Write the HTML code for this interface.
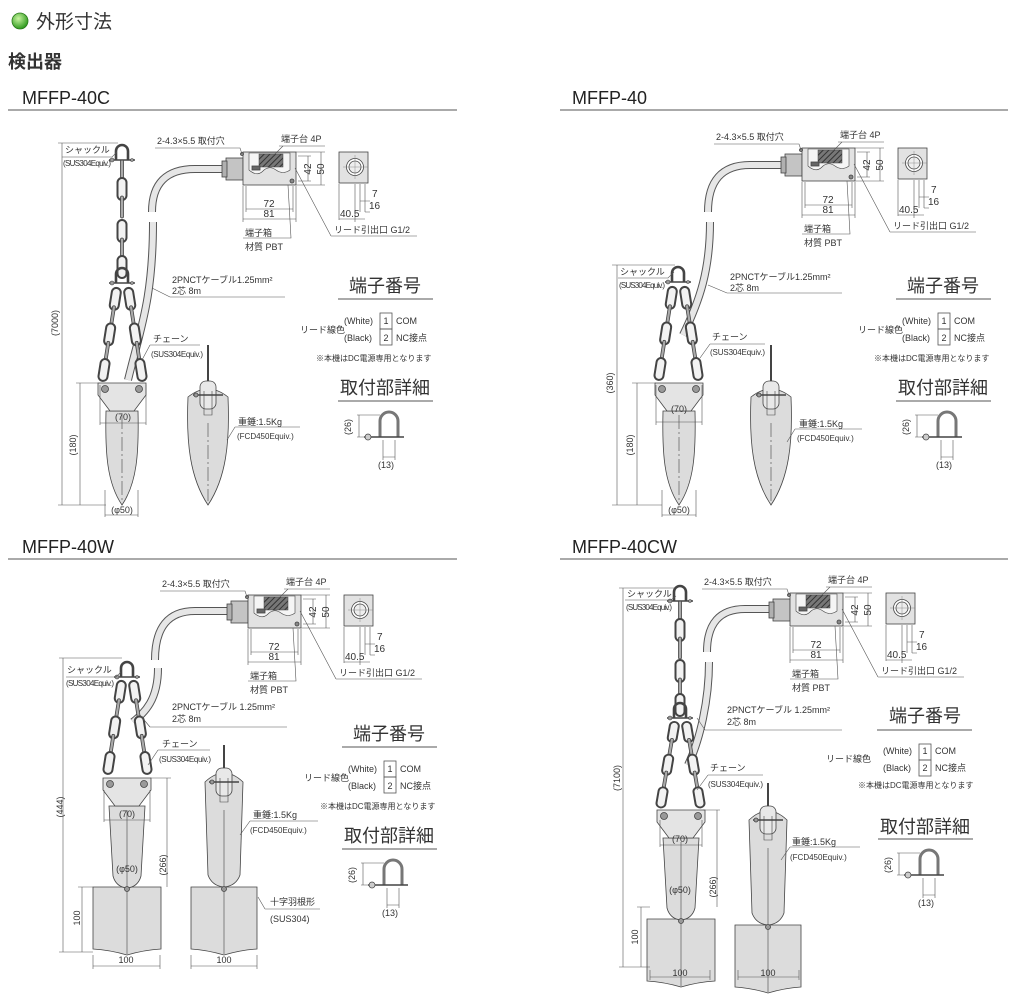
<!DOCTYPE html>
<html><head><meta charset="utf-8"><style>
html,body{margin:0;padding:0;background:#fff;}
svg{display:block;}
text{font-family:"Liberation Sans","Noto Sans CJK JP",sans-serif;fill:#333;}
.s{font-size:9px;}
.xs{font-size:8px;}
.m{font-size:10px;}
.h{font-size:18px;}
.t{font-size:18px;fill:#222;}
</style></head><body>
<svg width="1024" height="999" viewBox="0 0 1024 999" xmlns="http://www.w3.org/2000/svg">
<defs>
<radialGradient id="gg" cx="40%" cy="35%" r="65%"><stop offset="0" stop-color="#c8f5a0"/><stop offset="1" stop-color="#2f9a1e"/></radialGradient>
<pattern id="hatch" width="4" height="4" patternUnits="userSpaceOnUse" patternTransform="rotate(45)"><rect width="4" height="4" fill="#777"/><line x1="0" y1="0" x2="0" y2="4" stroke="#333" stroke-width="2"/></pattern>
<g id="boxA" stroke="#444" stroke-width="0.8">
 <rect x="-17" y="6" width="17" height="22" fill="#c4c4c4"/>
 <rect x="-21" y="9" width="5" height="16" fill="#b0b0b0"/>
 <rect x="0" y="0" width="53" height="33" fill="#e2e2e2"/>
 <path d="M6,1 H47 V18 Q40,23 33,18 T20,19 T6,18Z" fill="#f5f5f5" stroke-width="0.6"/>
 <rect x="16" y="2" width="24" height="13" fill="url(#hatch)" stroke-width="0.5"/>
 <rect x="9" y="14" width="8" height="4" fill="#666"/>
 <circle cx="49" cy="29" r="2" fill="#888"/>
 <circle cx="-1" cy="2" r="1.5" fill="#888"/>
 <g fill="none" stroke="#555" stroke-width="0.6">
  <path d="M53,0 H82 M53,33 H82 M55,4 H68 M55,29 H68 M0,34 V70 M53,34 V70 M3,34 V60 M50,34 V60"/>
  <path d="M65,4 V29 M78,0 V33 M3,57 H50 M0,67 H53"/>
  <path d="M-88,-4 H-3 L-1,2 M36,-6 H82 M40,-6 L30,4 M0,86 H48 L45,33 M88,84 H174 M88,84 L52,16"/>
  <path d="M112,32 V70 M117,32 V60 M122,32 V60 M117,49 H127 M122,60 H127 M96,32 V68 M96,67 H122"/>
 </g>
 <rect x="96" y="0" width="29" height="31" fill="#e2e2e2"/>
 <circle cx="112" cy="15" r="8.5" fill="#fff"/>
 <circle cx="112" cy="15" r="6" fill="#eee"/>
 <path d="M100,15 H125 M112,3 V27" stroke="#777" stroke-width="0.4"/>
</g>
<rect id="lf" x="-4.5" y="0" width="9" height="22" rx="4.5" fill="#f2f2f2" stroke="#444" stroke-width="2"/>
<rect id="le" x="-1.5" y="0" width="3" height="22" rx="1.5" fill="#aaa" stroke="#444" stroke-width="0.8"/>
<g id="sh" fill="none" stroke="#444">
 <path d="M-6,0 V-9 A6,6 0 0 1 6,-9 V0" stroke-width="2.6"/>
 <path d="M-13,0 H13" stroke-width="1.5"/>
 <circle cx="-10" cy="0" r="2" fill="#999" stroke-width="0.6"/>
 <circle cx="10" cy="0" r="1.5" fill="#999" stroke-width="0.6"/>
</g>
<g id="dch">
 <g transform="rotate(9)"><use href="#lf" y="0"/><use href="#le" y="18"/><use href="#lf" y="36"/><use href="#le" y="54"/><use href="#lf" y="72"/></g>
</g>
<g id="dchR">
 <g transform="rotate(-9)"><use href="#lf" y="0"/><use href="#le" y="18"/><use href="#lf" y="36"/><use href="#le" y="54"/><use href="#lf" y="72"/></g>
</g>
<g id="hold" stroke="#444" stroke-width="0.8">
 <polygon points="-24,0 24,0 24,12 12,28 -12,28 -24,12" fill="#e4e4e4"/>
 <circle cx="-17" cy="6" r="3.5" fill="#999"/><circle cx="17" cy="6" r="3.5" fill="#999"/>
</g>
<g id="wtC" stroke="#444" stroke-width="0.8">
 <path d="M-16,28 H16 C17,70 15,100 0,122 C-15,100 -17,70 -16,28Z" fill="#dcdcdc"/>
 <use href="#hold"/>
 <path d="M0,32 V118" stroke-dasharray="14,3,2,3" stroke-width="0.6"/>
</g>
<g id="wtW" stroke="#444" stroke-width="0.8">
 <path d="M-34,109 H34 V171 Q17,172 0,177 Q-17,172 -34,171Z" fill="#dcdcdc"/>
 <path d="M-18,28 H18 L14,98 Q11,109 0,110 Q-11,109 -14,98Z" fill="#dcdcdc"/>
 <use href="#hold"/>
 <path d="M0,32 V176" stroke-width="0.6"/>
 <circle cx="0" cy="111" r="2.5" fill="#999"/>
</g>
<g id="wt2C" stroke="#444" stroke-width="0.8">
 <path d="M0,-38 V5" stroke-width="2"/>
 <path d="M-20,14 C-22,60 -18,95 0,122 C18,95 22,60 20,14 Q0,-2 -20,14Z" fill="#dcdcdc"/>
 <rect x="-8" y="-2" width="16" height="28" rx="6" fill="#e8e8e8"/>
 <path d="M-4,8 V32 H4 V8" fill="none" stroke-width="0.6"/>
 <path d="M-15,12 H15" stroke-width="1.5"/><circle cx="-12" cy="12" r="2" fill="#999"/>
 <path d="M0,40 V118" stroke-dasharray="14,3,2,3" stroke-width="0.6"/>
</g>
<g id="wt2W" stroke="#444" stroke-width="0.8">
 <path d="M0,-25 V5" stroke-width="2"/>
 <path d="M-33,117 H33 V179 Q17,180 0,185 Q-17,180 -33,179Z" fill="#dcdcdc"/>
 <path d="M-19,12 Q0,-6 19,12 L16,105 Q12,116 0,117 Q-12,116 -16,105Z" fill="#dcdcdc"/>
 <rect x="-8" y="-2" width="16" height="28" rx="6" fill="#e8e8e8"/>
 <path d="M-4,8 V32 H4 V8" fill="none" stroke-width="0.6"/>
 <path d="M-15,12 H15" stroke-width="1.5"/><circle cx="-12" cy="12" r="2" fill="#999"/>
 <path d="M0,40 V184" stroke-width="0.6"/>
 <circle cx="0" cy="119" r="2.5" fill="#999"/>
</g>
<g id="term">
 <path d="M338,299 H433" stroke="#555" stroke-width="1"/>
 <rect x="380" y="313" width="12" height="16" fill="none" stroke="#555" stroke-width="0.8"/>
 <rect x="380" y="329" width="12" height="16" fill="none" stroke="#555" stroke-width="0.8"/>
</g>
<g id="shd" fill="none" stroke="#444">
 <path d="M338,401 H433" stroke="#555" stroke-width="1"/>
 <path d="M380,437 V421 A9,9 0 0 1 398,421 V437" stroke-width="3" stroke="#777"/>
 <path d="M364,437 H404" stroke-width="1.5"/>
 <circle cx="368" cy="437" r="3" fill="#ccc" stroke-width="0.7"/>
 <path d="M357,415 H380 M357,437 H366 M359,415 V437 M383,440 V460 M395,440 V460 M383,457 H395" stroke-width="0.6" stroke="#555"/>
</g>
</defs>

<circle cx="20" cy="21" r="8" fill="url(#gg)" stroke="#2a7a1a" stroke-width="0.8"/>
<text x="36" y="28" style="font-size:19px">外形寸法</text>
<text x="8" y="68" style="font-size:18px;font-weight:bold">検出器</text>

<text x="22" y="104" class="t">MFFP-40C</text>
<text x="572" y="104" class="t">MFFP-40</text>
<text x="22" y="553" class="t">MFFP-40W</text>
<text x="572" y="553" class="t">MFFP-40CW</text>
<path d="M8,110 H457 M560,110 H1008 M8,559 H457 M560,559 H1008" stroke="#555" stroke-width="1"/>

<g fill="none" stroke-linecap="butt">
 <path d="M226,169 H195 Q152,169 152,212 M153,222 C153,300 140,330 128,380" stroke="#555" stroke-width="8"/>
 <path d="M226,169 H195 Q152,169 152,212 M153,222 C153,300 140,330 128,380" stroke="#e6e6e6" stroke-width="6"/>
 <path d="M785,165 H750 Q708,165 708,212 M710,222 C710,270 700,300 683,335" stroke="#555" stroke-width="8"/>
 <path d="M785,165 H750 Q708,165 708,212 M710,222 C710,270 700,300 683,335" stroke="#e6e6e6" stroke-width="6"/>
 <path d="M231,611 H195 Q155,611 155,660 M158,668 C158,700 145,712 133,722" stroke="#555" stroke-width="8"/>
 <path d="M231,611 H195 Q155,611 155,660 M158,668 C158,700 145,712 133,722" stroke="#e6e6e6" stroke-width="6"/>
 <path d="M773,609 H745 Q707,609 707,652 M709,662 C709,700 700,740 688,765" stroke="#555" stroke-width="8"/>
 <path d="M773,609 H745 Q707,609 707,652 M709,662 C709,700 700,740 688,765" stroke="#e6e6e6" stroke-width="6"/>
</g>

<use href="#boxA" x="243" y="152"/>
<use href="#boxA" x="802" y="148"/>
<use href="#boxA" x="248" y="595"/>
<use href="#boxA" x="790" y="593"/>

<g>
 <use href="#sh" x="122" y="160"/>
 <use href="#le" x="122" y="160"/><use href="#lf" x="122" y="178"/><use href="#le" x="122" y="196"/>
 <use href="#lf" x="122" y="220"/><use href="#le" x="122" y="238"/><use href="#lf" x="122" y="256"/>
 <use href="#sh" x="122" y="283"/>
 <use href="#dch" x="117" y="288"/><use href="#dchR" x="128" y="288"/>
 <use href="#wtC" x="122" y="383"/>
 <use href="#wt2C" x="208" y="383"/>
</g>
<g>
 <use href="#sh" x="678" y="282"/>
 <use href="#dch" x="673" y="287"/><use href="#dchR" x="684" y="287"/>
 <use href="#wtC" x="679" y="383"/>
 <use href="#wt2C" x="771" y="383"/>
</g>
<g>
 <use href="#sh" x="127" y="677"/>
 <use href="#dch" x="122" y="681"/><use href="#dchR" x="133" y="681"/>
 <use href="#wtW" x="127" y="778"/>
 <use href="#wt2W" x="224" y="770"/>
</g>
<g>
 <use href="#sh" x="680" y="601"/>
 <use href="#le" x="680" y="601"/><use href="#lf" x="680" y="619"/><use href="#le" x="680" y="637"/>
 <use href="#lf" x="680" y="660"/><use href="#le" x="680" y="678"/><use href="#lf" x="680" y="694"/>
 <use href="#sh" x="680" y="718"/>
 <g transform="translate(675,722) scale(1,0.92)"><use href="#dch"/></g>
 <g transform="translate(686,722) scale(1,0.92)"><use href="#dchR"/></g>
 <use href="#wtW" x="681" y="810"/>
 <use href="#wt2W" x="768" y="808"/>
</g>

<g fill="none" stroke="#555" stroke-width="0.6">
 <path d="M58,143 H118 M58,505 H106 M62,143 V505 M76,383 H100 M80,383 V505 M100,385 V425 M146,385 V425 M100,423 H146 M105,490 V517 M138,490 V517 M105,515 H138"/>
 <path d="M62,157 H112 L117,152 M150,345 H200 M150,345 L142,360 M235,427 H300 M235,427 L227,440 M170,297 H285 M170,297 L152,288"/>
 <path d="M612,265 H675 M612,505 H662 M617,265 V505 M632,383 H656 M637,383 V505 M656,385 V425 M702,385 V425 M656,422 H702 M662,490 V517 M696,490 V517 M662,515 H696"/>
 <path d="M618,278 H668 L674,272 M710,344 H765 M710,344 L700,358 M795,429 H862 M795,429 L787,442 M727,293 H842 M727,293 L708,285"/>
 <path d="M59,658 H122 M59,952 H93 M63,658 V952 M150,778 H171 M167,778 V887 M78,887 H93 M82,887 V952 M104,790 V822 M150,790 V822 M104,820 H150 M93,955 V969 M160,955 V969 M93,966 H160 M191,955 V969 M257,955 V969 M191,966 H257"/>
 <path d="M66,677 H116 L121,672 M158,750 H210 M158,750 L148,765 M250,821 H318 M250,821 L240,835 M150,727 H287 M150,727 L140,715 M265,909 H320 M265,909 L258,897"/>
 <path d="M619,588 H675 M619,967 H650 M623,588 V967 M703,810 H720 M717,810 V907 M637,907 H650 M641,907 V967 M660,820 V847 M702,820 V847 M660,845 H702 M650,970 V980 M710,970 V980 M650,977 H710 M738,970 V980 M799,970 V980 M738,977 H799"/>
 <path d="M625,600 H671 L676,596 M708,775 H763 M708,775 L697,790 M790,847 H860 M790,847 L781,860 M705,730 H842 M705,730 L697,718"/>
</g>

<use href="#term"/>
<use href="#term" x="558" y="0"/>
<use href="#term" x="4" y="448"/>
<use href="#term" x="539" y="431"/>
<use href="#shd"/>
<use href="#shd" x="558" y="0"/>
<use href="#shd" x="4" y="448"/>
<use href="#shd" x="540" y="438"/>

<g transform="translate(243,152)">
 <text x="-86" y="-8" class="s">2-4.3×5.5 取付穴</text>
 <text x="38" y="-10" class="s">端子台 4P</text>
 <text transform="translate(68,17) rotate(-90)" text-anchor="middle" class="m">42</text>
 <text transform="translate(81,17) rotate(-90)" text-anchor="middle" class="m">50</text>
 <text x="26" y="55" text-anchor="middle" class="m">72</text>
 <text x="26" y="65" text-anchor="middle" class="m">81</text>
 <text x="129" y="45" class="m">7</text>
 <text x="126" y="57" class="m">16</text>
 <text x="97" y="65" class="m">40.5</text>
 <text x="91" y="81" class="s">リード引出口 G1/2</text>
 <text x="2" y="84" class="s">端子箱</text>
 <text x="2" y="98" class="s">材質 PBT</text>
</g>
<g transform="translate(802,148)">
 <text x="-86" y="-8" class="s">2-4.3×5.5 取付穴</text>
 <text x="38" y="-10" class="s">端子台 4P</text>
 <text transform="translate(68,17) rotate(-90)" text-anchor="middle" class="m">42</text>
 <text transform="translate(81,17) rotate(-90)" text-anchor="middle" class="m">50</text>
 <text x="26" y="55" text-anchor="middle" class="m">72</text>
 <text x="26" y="65" text-anchor="middle" class="m">81</text>
 <text x="129" y="45" class="m">7</text>
 <text x="126" y="57" class="m">16</text>
 <text x="97" y="65" class="m">40.5</text>
 <text x="91" y="81" class="s">リード引出口 G1/2</text>
 <text x="2" y="84" class="s">端子箱</text>
 <text x="2" y="98" class="s">材質 PBT</text>
</g>
<g transform="translate(248,595)">
 <text x="-86" y="-8" class="s">2-4.3×5.5 取付穴</text>
 <text x="38" y="-10" class="s">端子台 4P</text>
 <text transform="translate(68,17) rotate(-90)" text-anchor="middle" class="m">42</text>
 <text transform="translate(81,17) rotate(-90)" text-anchor="middle" class="m">50</text>
 <text x="26" y="55" text-anchor="middle" class="m">72</text>
 <text x="26" y="65" text-anchor="middle" class="m">81</text>
 <text x="129" y="45" class="m">7</text>
 <text x="126" y="57" class="m">16</text>
 <text x="97" y="65" class="m">40.5</text>
 <text x="91" y="81" class="s">リード引出口 G1/2</text>
 <text x="2" y="84" class="s">端子箱</text>
 <text x="2" y="98" class="s">材質 PBT</text>
</g>
<g transform="translate(790,593)">
 <text x="-86" y="-8" class="s">2-4.3×5.5 取付穴</text>
 <text x="38" y="-10" class="s">端子台 4P</text>
 <text transform="translate(68,17) rotate(-90)" text-anchor="middle" class="m">42</text>
 <text transform="translate(81,17) rotate(-90)" text-anchor="middle" class="m">50</text>
 <text x="26" y="55" text-anchor="middle" class="m">72</text>
 <text x="26" y="65" text-anchor="middle" class="m">81</text>
 <text x="129" y="45" class="m">7</text>
 <text x="126" y="57" class="m">16</text>
 <text x="97" y="65" class="m">40.5</text>
 <text x="91" y="81" class="s">リード引出口 G1/2</text>
 <text x="2" y="84" class="s">端子箱</text>
 <text x="2" y="98" class="s">材質 PBT</text>
</g>

<g>
 <text x="385" y="292" text-anchor="middle" class="h">端子番号</text>
 <text x="344" y="324" class="s">(White)</text><text x="386" y="324" text-anchor="middle" class="s">1</text><text x="396" y="324" class="s">COM</text>
 <text x="344" y="341" class="s">(Black)</text><text x="386" y="341" text-anchor="middle" class="s">2</text><text x="396" y="341" class="s">NC接点</text>
 <text x="300" y="333" class="s">リード線色</text>
 <text x="316" y="361" class="xs">※本機はDC電源専用となります</text>
 <text x="385" y="394" text-anchor="middle" class="h">取付部詳細</text>
 <text transform="translate(351,427) rotate(-90)" text-anchor="middle" class="s">(26)</text>
 <text x="386" y="468" text-anchor="middle" class="s">(13)</text>
</g>
<g transform="translate(558,0)">
 <text x="385" y="292" text-anchor="middle" class="h">端子番号</text>
 <text x="344" y="324" class="s">(White)</text><text x="386" y="324" text-anchor="middle" class="s">1</text><text x="396" y="324" class="s">COM</text>
 <text x="344" y="341" class="s">(Black)</text><text x="386" y="341" text-anchor="middle" class="s">2</text><text x="396" y="341" class="s">NC接点</text>
 <text x="300" y="333" class="s">リード線色</text>
 <text x="316" y="361" class="xs">※本機はDC電源専用となります</text>
 <text x="385" y="394" text-anchor="middle" class="h">取付部詳細</text>
 <text transform="translate(351,427) rotate(-90)" text-anchor="middle" class="s">(26)</text>
 <text x="386" y="468" text-anchor="middle" class="s">(13)</text>
</g>
<g transform="translate(4,448)">
 <text x="385" y="292" text-anchor="middle" class="h">端子番号</text>
 <text x="344" y="324" class="s">(White)</text><text x="386" y="324" text-anchor="middle" class="s">1</text><text x="396" y="324" class="s">COM</text>
 <text x="344" y="341" class="s">(Black)</text><text x="386" y="341" text-anchor="middle" class="s">2</text><text x="396" y="341" class="s">NC接点</text>
 <text x="300" y="333" class="s">リード線色</text>
 <text x="316" y="361" class="xs">※本機はDC電源専用となります</text>
 <text x="385" y="394" text-anchor="middle" class="h">取付部詳細</text>
 <text transform="translate(351,427) rotate(-90)" text-anchor="middle" class="s">(26)</text>
 <text x="386" y="468" text-anchor="middle" class="s">(13)</text>
</g>
<g transform="translate(539,431)">
 <text x="386" y="291" text-anchor="middle" class="h">端子番号</text>
 <text x="344" y="323" class="s">(White)</text><text x="386" y="323" text-anchor="middle" class="s">1</text><text x="396" y="323" class="s">COM</text>
 <text x="344" y="340" class="s">(Black)</text><text x="386" y="340" text-anchor="middle" class="s">2</text><text x="396" y="340" class="s">NC接点</text>
 <text x="287" y="331" class="s">リード線色</text>
 <text x="319" y="357" class="xs">※本機はDC電源専用となります</text>
</g>
<g transform="translate(540,438)">
 <text x="385" y="395" text-anchor="middle" class="h">取付部詳細</text>
 <text transform="translate(351,427) rotate(-90)" text-anchor="middle" class="s">(26)</text>
 <text x="386" y="468" text-anchor="middle" class="s">(13)</text>
</g>

<text x="65" y="153" class="s">シャックル</text>
<text x="63" y="166" class="xs" textLength="48">(SUS304Equiv.)</text>
<text x="172" y="283" class="s">2PNCTケーブル1.25mm²</text>
<text x="172" y="294" class="s">2芯 8m</text>
<text x="153" y="342" class="s">チェーン</text>
<text x="151" y="357" class="xs" textLength="52">(SUS304Equiv.)</text>
<text x="123" y="420" text-anchor="middle" class="s">(70)</text>
<text x="122" y="513" text-anchor="middle" class="s">(φ50)</text>
<text transform="translate(58,323) rotate(-90)" text-anchor="middle" class="s">(7000)</text>
<text transform="translate(76,445) rotate(-90)" text-anchor="middle" class="s">(180)</text>
<text x="238" y="425" class="s">重錘:1.5Kg</text>
<text x="237" y="439" class="xs">(FCD450Equiv.)</text>

<text x="620" y="275" class="s">シャックル</text>
<text x="619" y="288" class="xs" textLength="46">(SUS304Equiv.)</text>
<text x="730" y="280" class="s">2PNCTケーブル1.25mm²</text>
<text x="730" y="291" class="s">2芯 8m</text>
<text x="712" y="340" class="s">チェーン</text>
<text x="710" y="355" class="xs" textLength="55">(SUS304Equiv.)</text>
<text x="679" y="412" text-anchor="middle" class="s">(70)</text>
<text x="679" y="513" text-anchor="middle" class="s">(φ50)</text>
<text transform="translate(613,383) rotate(-90)" text-anchor="middle" class="s">(360)</text>
<text transform="translate(633,445) rotate(-90)" text-anchor="middle" class="s">(180)</text>
<text x="799" y="427" class="s">重錘:1.5Kg</text>
<text x="797" y="441" class="xs">(FCD450Equiv.)</text>

<text x="67" y="673" class="s">シャックル</text>
<text x="66" y="686" class="xs" textLength="48">(SUS304Equiv.)</text>
<text x="172" y="710" class="s">2PNCTケーブル 1.25mm²</text>
<text x="172" y="722" class="s">2芯 8m</text>
<text x="162" y="747" class="s">チェーン</text>
<text x="159" y="762" class="xs" textLength="52">(SUS304Equiv.)</text>
<text x="127" y="817" text-anchor="middle" class="s">(70)</text>
<text x="127" y="872" text-anchor="middle" class="s">(φ50)</text>
<text transform="translate(63,807) rotate(-90)" text-anchor="middle" class="s">(444)</text>
<text transform="translate(166,865) rotate(-90)" text-anchor="middle" class="s">(266)</text>
<text transform="translate(80,918) rotate(-90)" text-anchor="middle" class="s">100</text>
<text x="126" y="963" text-anchor="middle" class="s">100</text>
<text x="224" y="963" text-anchor="middle" class="s">100</text>
<text x="253" y="818" class="s">重錘:1.5Kg</text>
<text x="250" y="833" class="xs">(FCD450Equiv.)</text>
<text x="270" y="905" class="s">十字羽根形</text>
<text x="270" y="922" class="s">(SUS304)</text>

<text x="627" y="597" class="s">シャックル</text>
<text x="626" y="610" class="xs" textLength="46">(SUS304Equiv.)</text>
<text x="727" y="713" class="s">2PNCTケーブル 1.25mm²</text>
<text x="727" y="725" class="s">2芯 8m</text>
<text x="710" y="771" class="s">チェーン</text>
<text x="708" y="787" class="xs" textLength="55">(SUS304Equiv.)</text>
<text x="680" y="842" text-anchor="middle" class="s">(70)</text>
<text x="680" y="893" text-anchor="middle" class="s">(φ50)</text>
<text transform="translate(620,778) rotate(-90)" text-anchor="middle" class="s">(7100)</text>
<text transform="translate(716,887) rotate(-90)" text-anchor="middle" class="s">(266)</text>
<text transform="translate(638,937) rotate(-90)" text-anchor="middle" class="s">100</text>
<text x="680" y="976" text-anchor="middle" class="s">100</text>
<text x="768" y="976" text-anchor="middle" class="s">100</text>
<text x="792" y="845" class="s">重錘:1.5Kg</text>
<text x="790" y="860" class="xs">(FCD450Equiv.)</text>
</svg>
</body></html>
